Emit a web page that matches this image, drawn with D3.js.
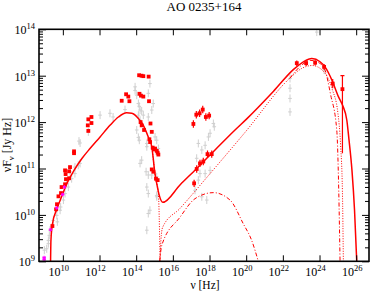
<!DOCTYPE html>
<head>
<meta charset="utf-8">
<script src="https://d3js.org/d3.v7.min.js"></script>
<style>
body { margin: 0; background: #fff; }
text { font-family: "Liberation Serif", "DejaVu Serif", serif; fill: #000; }
.axis path, .axis line { stroke: #000; }
</style>
</head>
<body>
<div id="my_dataviz"></div>
<script>

// all values are [log10(nu / Hz), log10(nuFnu / Jy Hz)]
var radioRed = [[9.43,9.76],[9.63,10.12],[9.68,10.23],[9.76,10.40],[9.90,10.47],[9.93,10.60],[10.12,10.66],[10.17,10.77],
  [10.34,10.79],[10.15,10.88],[10.34,10.94],[10.12,10.96],[10.39,11.03],[10.61,11.33],[10.61,11.37]]
var mmRed = [[11.39,12.06],[11.56,12.11],[11.36,11.93],[11.56,11.98],[11.39,11.81]]
var optRed = [[14.16,13.01],[14.29,13.00],[14.39,12.99],[14.68,12.98],[13.21,12.46],[13.45,12.60],[13.57,12.55],[13.63,12.45],
  [14.18,12.61],[14.26,12.57],[14.39,12.55],[14.70,12.45],[14.24,12.00],[14.30,11.93],[14.43,11.83],[14.78,11.97],[14.85,11.79],
  [14.72,11.63],[14.76,11.57],[14.90,11.45],[14.99,11.41],[15.12,11.38],[15.21,11.30],[15.03,11.43],[14.85,10.98],[14.94,10.93],
  [15.08,10.78],[15.17,11.34],[15.17,10.75]]
var xrayHigh = [[17.12,11.96],[17.28,12.16],[17.46,12.19],[17.63,12.27],[17.80,12.11],[17.98,12.14]]
var xrayLow = [[17.16,10.68],[17.30,10.99],[17.48,11.11],[17.66,11.15],[17.89,11.31],[18.12,11.31]]
var xrayErr = 0.08
var gammaRed = [[22.76,13.27],[23.27,13.27],[23.76,13.28],[24.25,13.19],[24.72,12.83],[25.25,12.71]]
var gammaErrUp = [0.06,0.06,0.06,0.06,0.1,0.29]
var gammaErrDown = [0.06,0.06,0.06,0.06,0.1,1.38]
var magentaPts = [[8.98,9.08],[8.98,9.04],[9.33,9.68],[9.67,10.15],[9.99,10.44],[10.09,10.60]]
var greyPts = [[8.99,9.24],[9.12,9.27],[9.21,9.38],[9.21,9.45],[9.26,9.56],[9.30,9.67],[9.48,9.88],[9.67,9.99],[9.70,9.85],
  [9.85,10.10],[9.88,10.17],[10.03,10.32],[10.12,10.46],[10.30,10.60],[10.21,10.68],[10.48,10.78],[10.39,10.93],[10.66,11.03],
  [10.66,10.89],[10.84,11.07],[10.94,11.11],[10.88,11.59],[10.94,11.55],[11.39,11.79],[12.03,12.15],[12.57,12.19],
  [12.74,12.11],[13.39,12.27],[13.94,12.76],[13.94,12.68],[14.03,12.58],[14.12,12.40],[14.21,12.26],[14.39,12.15],[14.66,12.11],
  [14.93,12.40],[14.85,12.26],[14.21,12.04],[14.75,12.83],[14.66,12.62],[14.17,12.34],[14.30,12.24],[14.12,12.15],[14.03,11.83],
  [14.12,11.67],[14.17,11.61],[14.30,11.18],[14.58,11.47],[14.58,11.54],[14.21,11.11],[14.54,10.93],[14.66,10.86],[14.85,10.86],
  [14.58,10.60],[14.66,10.46],[15.12,10.39],[14.75,10.10],[14.66,10.03],[14.58,9.67],[15.12,11.61],[15.21,11.43],[15.03,11.68],
  [15.12,10.82],[15.12,10.42],
  [17.39,11.54],[17.94,11.68],[18.03,11.76],[18.21,11.97],[18.26,11.90],[17.58,11.40],[17.76,11.50],[17.76,10.89],[17.39,10.75],
  [17.21,10.53],[17.58,10.39],[17.85,10.32],[17.48,10.89],[18.03,10.96],[17.30,11.22],
  [22.39,12.94],[22.39,12.73],[22.39,12.51],[22.39,12.22],[23.85,13.94],[24.25,13.12]]

// model curves
var totalModel = [[9.33,9.00],[9.35,9.45],[9.44,9.82],[9.67,10.12],[9.94,10.40],[10.25,10.70],[10.61,10.96],[11.05,11.22],
  [11.48,11.43],[12.03,11.68],[12.57,11.93],[13.03,12.11],[13.48,12.20],[13.76,12.19],[14.12,12.08],[14.39,11.93],[14.66,11.68],
  [14.85,11.47],[14.94,11.18],[15.00,10.96],[15.12,10.68],[15.26,10.42],[15.45,10.27],[16.40,10.65],[17.30,11.00],[18.30,11.40],
  [19.39,11.83],[20.03,12.07],[21.48,12.66],[22.57,13.13],[23.12,13.30],[23.58,13.37],[24.03,13.30],[24.30,13.19],[24.67,12.91],
  [25.03,12.55],[25.27,12.35],[25.49,12.04],[25.61,11.61],[25.77,10.96],[25.91,10.10],[26.03,9.00]]
var syncModel = [[14.85,11.47],[14.94,11.18],[15.00,10.96],[15.12,10.68],[15.19,10.55],[15.24,10.2],[15.27,9.7],[15.29,9.3],[15.30,9.0]]
var sscModel = [[15.30,9.0],[15.35,9.45],[15.44,9.73],[16.39,10.14],[18.03,10.89],[19.94,11.78],[22.39,12.95],[23.0,13.15],
  [23.6,13.22],[24.2,13.1],[24.7,12.7],[25.0,12.2],[25.15,11.5],[25.25,10.5],[25.3,9.0]]
var ecModel = [[22.39,12.95],[23.0,13.22],[23.49,13.33],[24.0,13.27],[24.30,13.12],[24.6,12.6],[24.94,11.83],[25.05,10.5],[25.12,9.0]]
var diskModel = [[15.28,9.0],[15.40,9.35],[16.39,9.95],[17.21,10.35],[18.21,10.48],[19.12,10.32],[19.84,9.81],[20.30,9.45],[20.66,9.0]]

var xTickExp = [10,12,14,16,18,20,22,24,26]
var yTickExp = [9,10,11,12,13,14]

// dimensions
var margin = {top: 29.3, right: 2, bottom: 29.7, left: 39},
    width = 371 - margin.left - margin.right,
    height = 291 - margin.top - margin.bottom;

var root = d3.select("#my_dataviz").append("svg")
    .attr("width", 371).attr("height", 291)
var svg = root.append("g")
    .attr("transform", "translate(" + margin.left + "," + margin.top + ")");

var x = d3.scaleLog().domain([5e8, 5e26]).range([0, width]);
var y = d3.scaleLog().domain([1e9, 1e14]).range([height, 0]);
function px(d) { return x(Math.pow(10, d[0])); }
function py(d) { return y(Math.pow(10, d[1])); }

svg.append("clipPath").attr("id", "clip")
  .append("rect").attr("width", width).attr("height", height)
var plot = svg.append("g").attr("clip-path", "url(#clip)")

// grey archival points
var grey = plot.selectAll("g.grey").data(greyPts).enter().append("g")
  .attr("stroke", "#cfcfcf").attr("stroke-width", 1)
grey.append("line").attr("x1", function(d){return px(d)}).attr("x2", function(d){return px(d)})
  .attr("y1", function(d){return py(d)-4}).attr("y2", function(d){return py(d)+4})
grey.append("line").attr("x1", function(d){return px(d)-1.8}).attr("x2", function(d){return px(d)+1.8})
  .attr("y1", function(d){return py(d)}).attr("y2", function(d){return py(d)})

// model curves
var line = d3.line().curve(d3.curveMonotoneX).x(px).y(py)
plot.append("path").datum(syncModel).attr("d", line)
  .attr("fill", "none").attr("stroke", "#f00").attr("stroke-width", 1).attr("stroke-dasharray", "1,1.5")
plot.append("path").datum(sscModel).attr("d", line)
  .attr("fill", "none").attr("stroke", "#f00").attr("stroke-width", 1).attr("stroke-dasharray", "1,1.5")
plot.append("path").datum(ecModel).attr("d", line)
  .attr("fill", "none").attr("stroke", "#f00").attr("stroke-width", 1).attr("stroke-dasharray", "4,2,1,2")
plot.append("path").datum(diskModel).attr("d", line)
  .attr("fill", "none").attr("stroke", "#f00").attr("stroke-width", 1).attr("stroke-dasharray", "4,2,1,2")
plot.append("path").datum(totalModel).attr("d", line)
  .attr("fill", "none").attr("stroke", "#f00").attr("stroke-width", 1.5)

// error bars
var xray = xrayHigh.concat(xrayLow)
plot.selectAll("line.xerr").data(xray).enter().append("line")
  .attr("x1", px).attr("x2", px)
  .attr("y1", function(d){return y(Math.pow(10, d[1] + xrayErr))})
  .attr("y2", function(d){return y(Math.pow(10, d[1] - xrayErr))})
  .attr("stroke", "#f00").attr("stroke-width", 1.2)
plot.selectAll("line.gerr").data(gammaRed).enter().append("line")
  .attr("x1", px).attr("x2", px)
  .attr("y1", function(d,i){return y(Math.pow(10, d[1] + gammaErrUp[i]))})
  .attr("y2", function(d,i){return y(Math.pow(10, d[1] - gammaErrDown[i]))})
  .attr("stroke", "#f00").attr("stroke-width", 1.2)
plot.selectAll("line.gcap").data(gammaRed.slice(5)).enter().append("line")
  .attr("x1", function(d){return px(d)-2}).attr("x2", function(d){return px(d)+2})
  .attr("y1", function(d){return y(Math.pow(10, d[1] + gammaErrUp[5]))})
  .attr("y2", function(d){return y(Math.pow(10, d[1] + gammaErrUp[5]))})
  .attr("stroke", "#f00").attr("stroke-width", 1.2)

// red squares
var redPts = radioRed.concat(mmRed, optRed, xray, gammaRed)
plot.selectAll("rect.red").data(redPts).enter().append("rect")
  .attr("x", function(d){return px(d)-1.9}).attr("y", function(d){return py(d)-1.9})
  .attr("width", 3.8).attr("height", 3.8).attr("fill", "#f00")

// magenta points
var mag = plot.selectAll("g.mag").data(magentaPts).enter().append("g")
  .attr("stroke", "#f0f").attr("stroke-width", 1)
mag.append("line").attr("x1", function(d){return px(d)-1.8}).attr("x2", function(d){return px(d)+1.8})
  .attr("y1", py).attr("y2", py)
mag.append("line").attr("x1", px).attr("x2", px)
  .attr("y1", function(d){return py(d)-1.8}).attr("y2", function(d){return py(d)+1.8})
mag.append("line").attr("x1", function(d){return px(d)-1.3}).attr("x2", function(d){return px(d)+1.3})
  .attr("y1", function(d){return py(d)-1.3}).attr("y2", function(d){return py(d)+1.3})
mag.append("line").attr("x1", function(d){return px(d)-1.3}).attr("x2", function(d){return px(d)+1.3})
  .attr("y1", function(d){return py(d)+1.3}).attr("y2", function(d){return py(d)-1.3})

// axes, ticks pointing inwards
var xMajor = xTickExp.map(function(e){ return Math.pow(10, e) })
var yMajor = yTickExp.map(function(e){ return Math.pow(10, e) })
var yMinor = []
for (var e = 9; e < 14; e++) for (var k = 2; k < 10; k++) yMinor.push(k * Math.pow(10, e))

svg.append("g").attr("class", "axis").attr("transform", "translate(0," + height + ")")
  .call(d3.axisBottom(x).tickValues(xMajor).tickSize(-6).tickSizeOuter(0).tickFormat(""))
svg.append("g").attr("class", "axis")
  .call(d3.axisTop(x).tickValues(xMajor).tickSize(-6).tickSizeOuter(0).tickFormat(""))
svg.append("g").attr("class", "axis")
  .call(d3.axisLeft(y).tickValues(yMajor).tickSize(-7).tickSizeOuter(0).tickFormat(""))
svg.append("g").attr("class", "axis")
  .call(d3.axisLeft(y).tickValues(yMinor).tickSize(-4).tickSizeOuter(0).tickFormat(""))
svg.append("g").attr("class", "axis").attr("transform", "translate(" + width + ",0)")
  .call(d3.axisRight(y).tickValues(yMajor).tickSize(-7).tickSizeOuter(0).tickFormat(""))
svg.append("g").attr("class", "axis").attr("transform", "translate(" + width + ",0)")
  .call(d3.axisRight(y).tickValues(yMinor).tickSize(-4).tickSizeOuter(0).tickFormat(""))
svg.selectAll(".axis .tick text").remove()
svg.selectAll(".axis .domain").remove()

svg.append("rect").attr("width", width).attr("height", height)
  .attr("fill", "none").attr("stroke", "#000").attr("stroke-width", 1.6)

// tick labels
xTickExp.forEach(function(e){
  var t = svg.append("text").attr("x", x(Math.pow(10, e)) - 4).attr("y", height + 14.5)
    .attr("text-anchor", "middle").style("font-size", "12px")
  t.append("tspan").text("10")
  t.append("tspan").attr("dy", -5).style("font-size", "8.5px").text(e)
})
yTickExp.forEach(function(e){
  var t = svg.append("text").attr("x", -4).attr("y", y(Math.pow(10, e)) + 5)
    .attr("text-anchor", "end").style("font-size", "12px")
  t.append("tspan").text("10")
  t.append("tspan").attr("dy", -5).style("font-size", "8.5px").text(e)
})

// titles
root.append("text").attr("x", 204).attr("y", 11).attr("text-anchor", "middle")
  .style("font-size", "13px").text("AO 0235+164")
root.append("text").attr("x", 205).attr("y", 288.5).attr("text-anchor", "middle")
  .style("font-size", "11.5px").text("ν [Hz]")
var yl = root.append("text").attr("transform", "translate(11,145) rotate(-90)")
  .attr("text-anchor", "middle").style("font-size", "12px")
yl.append("tspan").text("νF")
yl.append("tspan").attr("dy", 3).style("font-size", "8.5px").text("ν")
yl.append("tspan").attr("dy", -3).text(" [Jy Hz]")

</script>
</body>
